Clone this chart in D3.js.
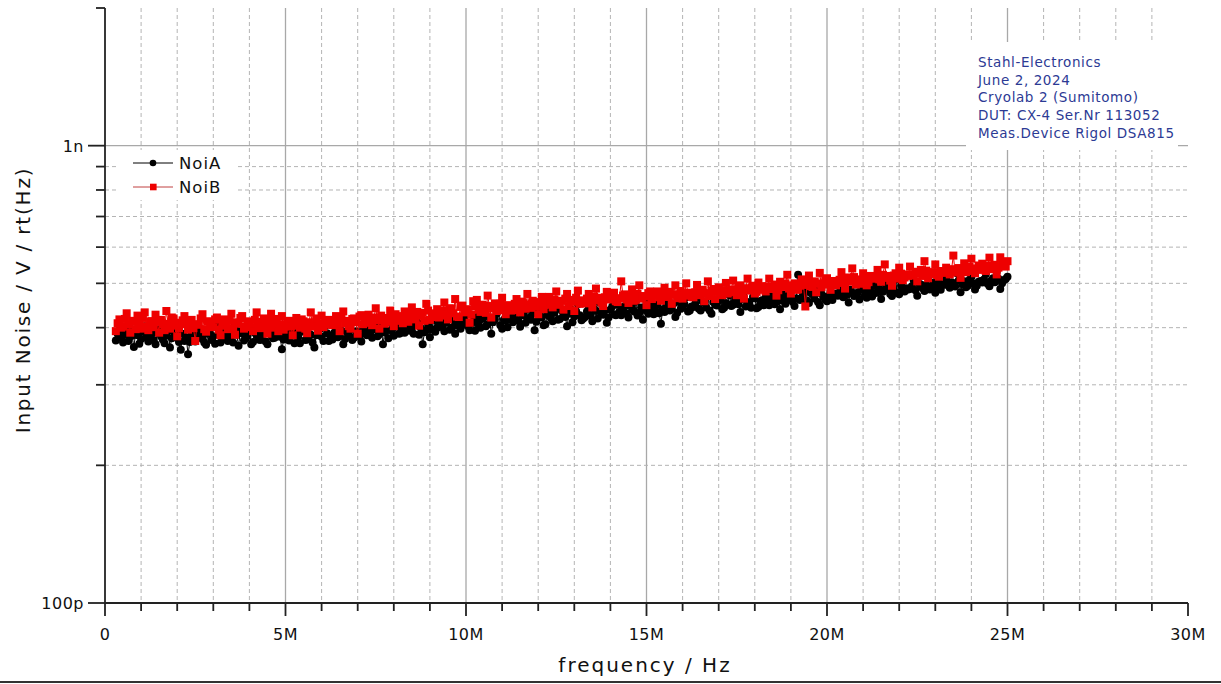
<!DOCTYPE html>
<html lang="en">
<head>
    <meta charset="UTF-8" />
    <title>Input Noise - NoiA / NoiB</title>
    <script src="https://d3js.org/d3.v7.min.js"></script>
    <style>
        body { margin: 0; background: #fff; font-family: "DejaVu Sans", "Noto Sans", sans-serif; }
        #chart svg { display: block; }
        .grid-minor { stroke: #b4b4b4; stroke-width: 1; stroke-dasharray: 4,3; }
        .grid-major { stroke: #a8a8a8; stroke-width: 1.3; }
        .axis-line { stroke: #222; stroke-width: 1.8; }
        .tick-label { font-size: 16px; fill: #111; letter-spacing: 0.5px; }
    </style>
</head>
<body>
<div id="chart"></div>

<script>
    // sweep: 0.3 MHz .. 25 MHz, 50 kHz step (one value per point below)
    const sweepStart = 0.3e6;
    const sweepStep = 0.05e6;

    // NoiA, pV/rt(Hz)
    const noiA = [
        375,388, 395,380, 371,392, 386,374, 398,384, 363,390, 385,369, 378,393, 403,381, 373,386,
        389,376, 368,391, 397,383, 377,370, 384,395, 362,379, 392,386, 380,372, 358,388, 374,381,
        350,372, 386,379, 373,390, 400,384, 378,371, 367,388, 391,376, 383,369, 403,386, 371,393,
        392,380, 374,389, 384,371, 404,386, 365,393, 389,375, 379,384, 397,368, 372,390, 385,377,
        376,387, 395,373, 368,391, 388,379, 380,396, 400,382, 359,377, 386,390, 375,384, 393,370,
        389,381, 370,392, 398,376, 377,388, 386,371, 362,385, 392,397, 382,374, 404,389, 374,383,
        377,390, 399,381, 384,394, 368,378, 392,386, 406,376, 380,393, 389,383, 373,398, 395,385,
        399,386, 380,397, 407,383, 387,400, 368,391, 395,379, 411,394, 384,404, 402,388, 390,396,
        390,402, 410,394, 400,388, 405,411, 386,399, 368,391, 395,406, 381,397, 415,392, 400,408,
        413,401, 393,410, 424,396, 400,415, 388,405, 417,398, 408,419, 430,403, 395,409, 412,394,
        422,408, 400,418, 427,403, 407,421, 388,411, 417,429, 436,405, 398,416, 414,401, 424,419,
        411,423, 431,414, 402,428, 426,410, 439,420, 416,430, 395,412, 434,425, 421,405, 407,427,
        433,420, 413,431, 444,416, 418,436, 428,422, 403,429, 439,411, 423,434, 450,426, 415,419,
        422,434, 442,425, 413,440, 435,419, 454,431, 427,436, 410,421, 438,445, 428,426, 449,433,
        426,440, 446,430, 421,447, 441,434, 456,425, 431,443, 416,437, 451,429, 439,448, 428,435,
        449,430, 408,439, 433,447, 460,436, 441,452, 422,431, 455,440, 444,450, 466,434, 436,445,
        444,451, 465,440, 436,457, 454,443, 473,436, 429,455, 449,447, 458,461, 439,442, 453,450,
        471,446, 449,458, 460,450, 433,462, 479,445, 455,453, 442,467, 464,441, 444,456, 459,448,
        466,454, 448,463, 477,450, 455,468, 439,459, 472,451, 461,470, 487,456, 446,464, 522,460,
        462,470, 484,458, 453,476, 473,463, 494,455, 448,474, 468,461, 457,469, 479,460, 472,475,
        470,478, 493,466, 481,472, 454,484, 476,469, 504,477, 461,487, 485,471, 465,482, 480,468,
        495,476, 478,486, 462,479, 500,491, 484,474, 469,483, 510,477, 473,494, 489,480, 488,485,
        486,493, 508,483, 470,499, 497,488, 481,495, 518,485, 492,502, 477,490, 503,484, 496,497,
        511,495, 489,503, 500,492, 526,507, 478,498, 505,490, 494,509, 516,499, 485,494, 504,506,
        502,510, 524,499, 493,507, 513,503, 530,512, 486,500, 508,511, 517
    ];

    // NoiB, pV/rt(Hz)
    const noiB = [
        393,409, 417,400, 402,418, 430,406, 390,414, 412,397, 425,411, 398,420, 432,403, 395,413,
        413,401, 427,412, 390,416, 407,395, 435,408, 398,421, 419,404, 383,399, 410,415, 424,407,
        396,410, 416,399, 374,407, 406,419, 428,397, 392,413, 412,403, 401,417, 421,396, 385,409,
        417,404, 397,414, 429,399, 386,411, 408,420, 424,398, 402,408, 413,401, 393,416, 432,406,
        399,412, 419,403, 388,415, 429,400, 409,418, 393,407, 424,396, 404,413, 414,402, 385,410,
        420,404, 400,417, 413,398, 389,411, 432,402, 405,419, 394,408, 425,401, 410,414, 416,406,
        405,415, 424,406, 393,421, 434,409, 414,403, 398,418, 419,411, 388,423, 426,407, 410,416,
        427,411, 405,421, 441,415, 398,425, 419,408, 412,420, 436,413, 403,428, 424,418, 414,409,
        434,420, 412,429, 443,417, 419,433, 404,425, 431,414, 451,436, 416,422, 427,430, 439,421,
        425,436, 454,428, 417,441, 440,430, 462,423, 422,444, 447,434, 432,439, 410,427, 457,445,
        460,438, 433,449, 447,431, 470,446, 421,441, 452,435, 437,451, 465,439, 428,448, 443,436,
        437,451, 462,443, 432,456, 452,440, 474,449, 442,458, 455,445, 428,453, 467,439, 449,454,
        467,452, 443,461, 480,449, 450,458, 438,463, 474,446, 460,456, 435,465, 482,451, 457,459,
        452,463, 474,456, 443,468, 487,459, 465,454, 446,466, 479,461, 462,471, 477,457, 455,464,
        505,470, 473,461, 453,467, 485,458, 460,474, 495,463, 468,469, 448,476, 480,462, 472,471,
        480,466, 458,475, 489,468, 467,479, 451,472, 495,464, 473,481, 463,470, 500,476, 477,467,
        466,478, 496,471, 474,484, 457,476, 505,469, 481,486, 462,480, 490,473, 471,482, 501,475,
        478,485, 507,480, 471,490, 495,477, 463,488, 512,482, 486,494, 475,479, 502,487, 493,484,
        480,492, 512,486, 488,497, 470,483, 504,491, 493,500, 522,487, 475,495, 500,484, 485,494,
        510,496, 445,502, 520,493, 491,505, 478,499, 527,490, 500,508, 513,497, 484,503, 506,495,
        505,509, 529,501, 487,513, 515,504, 539,516, 497,507, 510,499, 526,511, 495,503, 519,512,
        513,518, 535,510, 504,522, 550,514, 519,507, 494,520, 526,512, 541,525, 508,515, 523,519,
        544,522, 520,530, 505,526, 535,519, 559,533, 513,524, 528,529, 550,521, 517,531, 532,527,
        541,531, 523,537, 575,528, 530,540, 514,534, 553,529, 538,543, 566,532, 526,539, 547,535,
        552,540, 532,546, 569,537, 539,549, 523,541, 570,550, 547,544, 559
    ];

    const xTickLabels = ["0", "5M", "10M", "15M", "20M", "25M", "30M"];
    const yTickLabels = [{ v: 1e-10, t: "100p" }, { v: 1e-9, t: "1n" }];
    const infoLines = [
        "Stahl-Electronics",
        "June 2, 2024",
        "Cryolab 2 (Sumitomo)",
        "DUT: CX-4 Ser.Nr 113052",
        "Meas.Device Rigol DSA815"
    ];

    const W = 1221, H = 684;
    const plot = { left: 105, right: 1188, top: 8, bottom: 603 };

    const svg = d3.select("#chart").append("svg")
        .attr("width", W)
        .attr("height", H);

    const x = d3.scaleLinear().domain([0, 30e6]).range([plot.left, plot.right]);
    const y = d3.scaleLog().domain([1e-10, 2e-9]).range([plot.bottom, plot.top]);

    const toPoints = arr => arr.map((v, i) => ({ f: sweepStart + i * sweepStep, v: v * 1e-12 }));
    const seriesA = toPoints(noiA);
    const seriesB = toPoints(noiB);

    // grid
    const grid = svg.append("g");
    const xMinor = d3.range(1, 30).map(d => d * 1e6);
    grid.selectAll("line.vx")
        .data(xMinor)
        .enter()
        .append("line")
        .attr("class", d => (d % 5e6 === 0) ? "grid-major" : "grid-minor")
        .attr("x1", d => x(d)).attr("x2", d => x(d))
        .attr("y1", plot.top).attr("y2", plot.bottom);

    const yMinor = d3.range(2, 10).map(d => d * 1e-10);
    grid.selectAll("line.hy")
        .data(yMinor)
        .enter()
        .append("line")
        .attr("class", "grid-minor")
        .attr("x1", plot.left).attr("x2", plot.right)
        .attr("y1", d => y(d)).attr("y2", d => y(d));
    grid.append("line")
        .attr("class", "grid-major")
        .attr("x1", plot.left).attr("x2", plot.right)
        .attr("y1", y(1e-9)).attr("y2", y(1e-9));

    // info box
    const info = svg.append("g");
    info.append("rect")
        .attr("x", 966).attr("y", 42)
        .attr("width", 212).attr("height", 108)
        .attr("fill", "#fff");
    info.selectAll("text")
        .data(infoLines)
        .enter()
        .append("text")
        .attr("x", 978)
        .attr("y", (d, i) => 67 + i * 17.7)
        .attr("font-size", 13.5)
        .attr("letter-spacing", 0.6)
        .attr("fill", "#2c3a94")
        .text(d => d);

    // data
    const line = d3.line().x(d => x(d.f)).y(d => y(d.v));

    function drawSeries(data, color, shape) {
        const g = svg.append("g");
        g.append("path")
            .datum(data)
            .attr("d", line)
            .attr("fill", "none")
            .attr("stroke", color)
            .attr("stroke-width", 1);
        if (shape === "circle") {
            g.selectAll("circle")
                .data(data)
                .enter()
                .append("circle")
                .attr("cx", d => x(d.f))
                .attr("cy", d => y(d.v))
                .attr("r", 4)
                .attr("fill", color);
        } else {
            g.selectAll("rect")
                .data(data)
                .enter()
                .append("rect")
                .attr("x", d => x(d.f) - 4)
                .attr("y", d => y(d.v) - 4)
                .attr("width", 8)
                .attr("height", 8)
                .attr("fill", color);
        }
    }
    drawSeries(seriesA, "#000", "circle");
    drawSeries(seriesB, "#ee0000", "square");

    // axes
    const axes = svg.append("g");
    axes.append("line").attr("class", "axis-line")
        .attr("x1", plot.left).attr("x2", plot.left)
        .attr("y1", plot.top).attr("y2", plot.bottom);
    axes.append("line").attr("class", "axis-line")
        .attr("x1", plot.left).attr("x2", plot.right)
        .attr("y1", plot.bottom).attr("y2", plot.bottom);

    // x ticks
    const xTicks = d3.range(0, 31).map(d => d * 1e6);
    axes.selectAll("line.xt")
        .data(xTicks)
        .enter()
        .append("line")
        .attr("class", "axis-line")
        .attr("x1", d => x(d)).attr("x2", d => x(d))
        .attr("y1", plot.bottom)
        .attr("y2", d => plot.bottom + (d % 5e6 === 0 ? 13 : 8));
    axes.selectAll("text.xl")
        .data(xTickLabels)
        .enter()
        .append("text")
        .attr("class", "tick-label")
        .attr("x", (d, i) => x(i * 5e6))
        .attr("y", 640)
        .attr("text-anchor", "middle")
        .text(d => d);

    // y ticks
    const yTicks = d3.range(1, 10).map(d => d * 1e-10).concat([1e-9, 2e-9]);
    axes.selectAll("line.yt")
        .data(yTicks)
        .enter()
        .append("line")
        .attr("class", "axis-line")
        .attr("x1", d => plot.left - ((d === 1e-10 || d === 1e-9) ? 17 : 9))
        .attr("x2", plot.left)
        .attr("y1", d => y(d)).attr("y2", d => y(d));
    axes.selectAll("text.yl")
        .data(yTickLabels)
        .enter()
        .append("text")
        .attr("class", "tick-label")
        .attr("x", 84)
        .attr("y", d => y(d.v) + 6)
        .attr("text-anchor", "end")
        .text(d => d.t);

    // legend
    const legend = svg.append("g");
    legend.append("rect")
        .attr("x", 118).attr("y", 150)
        .attr("width", 120).attr("height", 50)
        .attr("fill", "#fff");
    const legendItems = [
        { name: "NoiA", color: "#000", shape: "circle" },
        { name: "NoiB", color: "#ee0000", shape: "square" }
    ];
    legendItems.forEach((d, i) => {
        const ly = 163 + i * 24;
        legend.append("line")
            .attr("x1", 133).attr("x2", 173)
            .attr("y1", ly).attr("y2", ly)
            .attr("stroke", d.shape === "circle" ? "#000" : "#c04040")
            .attr("stroke-width", 1);
        if (d.shape === "circle") {
            legend.append("circle").attr("cx", 153).attr("cy", ly).attr("r", 3.3).attr("fill", d.color);
        } else {
            legend.append("rect").attr("x", 150).attr("y", ly - 3.3)
                .attr("width", 6.6).attr("height", 6.6).attr("fill", d.color);
        }
        legend.append("text")
            .attr("x", 179).attr("y", ly + 6)
            .attr("font-size", 16.5)
            .attr("letter-spacing", 1)
            .attr("fill", "#111")
            .text(d.name);
    });

    // axis titles
    svg.append("text")
        .attr("x", 645).attr("y", 672)
        .attr("text-anchor", "middle")
        .attr("font-size", 20)
        .attr("letter-spacing", 2)
        .attr("fill", "#111")
        .text("frequency / Hz");
    svg.append("text")
        .attr("transform", "translate(30,300) rotate(-90)")
        .attr("text-anchor", "middle")
        .attr("font-size", 20)
        .attr("letter-spacing", 1.8)
        .attr("fill", "#111")
        .text("Input Noise / V / rt(Hz)");

    // bottom frame line
    svg.append("line")
        .attr("x1", 0).attr("x2", W)
        .attr("y1", 682).attr("y2", 682)
        .attr("stroke", "#333")
        .attr("stroke-width", 2);
</script>
</body>
</html>
